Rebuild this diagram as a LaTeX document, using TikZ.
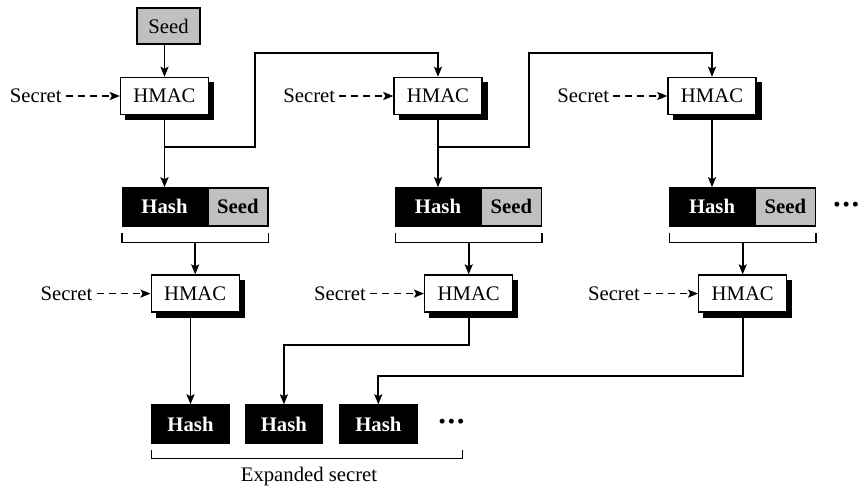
\documentclass[tikz,border=0pt]{standalone}
\usepackage{fontspec}
\setmainfont{Liberation Serif}
\usepackage{tikz}
\usetikzlibrary{
  arrows.meta,
  positioning,
  calc
}
\definecolor{hsGray}{HTML}{C0C0C0}
\tikzset{
  hsnode/.style={
    draw, line width=1.4pt, inner sep=0pt, font=\fontsize{20.7}{24}\selectfont
  },
  hmac/.style={hsnode, fill=white, minimum width=88pt, minimum height=37pt},
  hmacshadow/.style={fill=black, inner sep=0pt, minimum width=89pt, minimum height=38pt},
  seedbox/.style={hsnode, fill=hsGray, minimum width=63pt, minimum height=36pt},
  hashpart/.style={hsnode, fill=black, text=white, minimum width=84pt, minimum height=38pt,
    font=\fontsize{20.7}{24}\selectfont\bfseries},
  seedpart/.style={hashpart, fill=hsGray, text=black, minimum width=60pt},
  outhash/.style={hashpart, minimum width=77pt},
  secret/.style={inner sep=4pt, font=\fontsize{20.7}{24}\selectfont},
  dots/.style={inner sep=0pt, font=\fontsize{20.7}{24}\selectfont},
  flow/.style={-{Stealth[length=10pt, width=8pt, inset=2pt]}, line width=1.8pt},
  keyflow/.style={flow, line width=1.4pt, dash pattern=on 7pt off 5pt},
  brace/.style={line width=1.4pt}
}

\begin{document}
\begin{tikzpicture}[x=1pt, y=-1pt]
  \useasboundingbox (0,0) rectangle (858,488);
  % first HMAC round
  \node[seedbox] (seed) at (168.5,26) {Seed};
  \foreach \i/\x in {1/164.5, 2/438, 3/712}{
    \node[hmacshadow] (z1\i) at (\x+5,101) {};
    \node[hmac] (m1\i) at (\x,96) {HMAC};
  }
  % hash || seed, bracket, second HMAC round
  \foreach \i in {1,2,3}{
    \node[hashpart, below=72pt of m1\i.south] (h\i) {Hash};
    \node[seedpart, right=0pt of h\i] (s\i) {Seed};
    \draw[brace] ([yshift=-6pt]h\i.south west) -- ++(0,10) -| ([yshift=-6pt]s\i.south east);
    \coordinate (br\i) at ($(h\i.south west)!.5!(s\i.south east)+(0,16)$);
    \node[hmacshadow] (z2\i) at ($(br\i)+(5,56)$) {};
    \node[hmac] (m2\i) at ($(br\i)+(0,51)$) {HMAC};
    \draw[flow] (m1\i) -- (h\i);
    \draw[flow] (br\i) -- (m2\i);
  }
  \node[dots, right=17pt of s3] (more1) {\textbullet\kern2pt\textbullet\kern2pt\textbullet};
  % secret inputs
  \foreach \m in {m11,m12,m13,m21,m22,m23}{
    \node[secret, left=54pt of \m] (k\m) {Secret};
    \draw[keyflow] (k\m) -- (\m);
  }
  % expanded secret
  \node[outhash] (e1) at (190.5,424) {Hash};
  \node[outhash, right=15pt of e1] (e2) {Hash};
  \node[outhash, right=16pt of e2] (e3) {Hash};
  \node[dots, right=21pt of e3] (more2) {\textbullet\kern2pt\textbullet\kern2pt\textbullet};
  \draw[brace] ([yshift=-6pt]e1.south west) -- ++(0,9) -- ++(311,0) -- ++(0,-9);
  \node[secret] (exp) at (309,477) {Expanded secret};
  % connectors
  \draw[flow] (seed.south -| m11.north) -- (m11.north);
  \draw[flow] ([yshift=-32pt]m11.south) -- ++(90.5,0) |- ([yshift=24pt]m12.north) -- (m12.north);
  \draw[flow] ([yshift=-32pt]m12.south) -- ++(91,0) |- ([yshift=24pt]m13.north) -- (m13.north);
  \draw[flow] (m21.south -| e1.north) -- (e1.north);
  \draw[flow] (m22.south) -- ++(0,32) -| (e2.north);
  \draw[flow] (m23.south) -- ++(0,63.5) -| (e3.north);
\end{tikzpicture}
\end{document}
